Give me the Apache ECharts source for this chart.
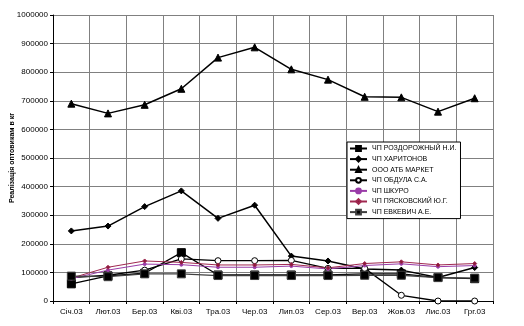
<!DOCTYPE html>
<html>
<head>
<meta charset="utf-8">
<script src="https://cdn.jsdelivr.net/npm/echarts@6/dist/echarts.min.js"></script>
<style>
  html, body { margin: 0; padding: 0; background: #fff; }
  #chart { width: 524px; height: 326px; }
</style>
</head>
<body>
<div id="chart"></div>
<script>
// Months of 2003
const months = ['Січ.03', 'Лют.03', 'Бер.03', 'Кві.03', 'Тра.03', 'Чер.03',
                'Лип.03', 'Сер.03', 'Вер.03', 'Жов.03', 'Лис.03', 'Грг.03'];

// Wholesale sales per customer, kg
const rozdorozhny = [60000, 88000, 97000, 169000, 91000, 91000, 91000, 91000, 95000, 95000, 82000, 78000];
const kharytonov  = [245000, 262000, 330000, 385000, 289000, 335000, 157000, 140000, 112000, 108000, 82000, 117000];
const atbMarket   = [690000, 656000, 686000, 742000, 851000, 887000, 810000, 774000, 714000, 712000, 662000, 709000];
const obdula      = [82000, 90000, 108000, 147000, 141000, 141000, 142000, 114000, 114000, 20000, 0, 0];
const shkuro      = [78000, 108000, 129000, 127000, 118000, 118000, 122000, 112000, 124000, 130000, 120000, 124000];
const pyaskovsky  = [80000, 118000, 140000, 135000, 126000, 126000, 128000, 116000, 131000, 137000, 126000, 131000];
const evkevych    = [87000, 85000, 95000, 95000, 89000, 89000, 89000, 89000, 90000, 90000, 82000, 80000];

const seriesNames = ['ЧП РОЗДОРОЖНЫЙ Н.И.', 'ЧП ХАРИТОНОВ', 'ООО АТБ МАРКЕТ', 'ЧП ОБДУЛА С.А.',
                     'ЧП ШКУРО', 'ЧП ПЯСКОВСКИЙ Ю.Г.', 'ЧП ЕВКЕВИЧ А.Е.'];
const yTicks = { min: 0, max: 1000000, step: 100000 };

const font = 'Liberation Sans, Arial, sans-serif';

function lineSeries(name, data, color, symbol, size, width, symbolColor) {
  return {
    name: name,
    type: 'line',
    data: data,
    symbol: symbol,
    symbolSize: size,
    showSymbol: true,
    lineStyle: { color: color, width: width },
    itemStyle: { color: symbolColor || color, borderColor: color, borderWidth: 1 },
    emphasis: { disabled: true },
    animation: false
  };
}

const chart = echarts.init(document.getElementById('chart'), null, { renderer: 'canvas' });
chart.setOption({
  backgroundColor: '#ffffff',
  textStyle: { fontFamily: font },
  grid: { left: 53, right: 31, top: 15, bottom: 25, containLabel: false, outerBoundsMode: 'none' },
  legend: {
    orient: 'vertical',
    left: 347,
    top: 142,
    itemWidth: 17,
    itemHeight: 6,
    itemGap: 3.6,
    padding: [3, 4, 3, 2],
    backgroundColor: '#ffffff',
    borderColor: '#000000',
    borderWidth: 1,
    borderRadius: 0,
    textStyle: { fontSize: 7, color: '#000', fontFamily: font },
    data: seriesNames
  },
  xAxis: {
    type: 'category',
    data: months,
    boundaryGap: true,
    axisLine: { lineStyle: { color: '#000', width: 1 } },
    axisTick: { show: true, length: 3, lineStyle: { color: '#000' } },
    axisLabel: { fontSize: 8, color: '#000', margin: 7, fontFamily: font },
    splitLine: { show: true, lineStyle: { color: '#808080', width: 1 } }
  },
  yAxis: {
    type: 'value',
    min: yTicks.min,
    max: yTicks.max,
    interval: yTicks.step,
    name: 'Реалізація оптовикам в кг',
    nameLocation: 'middle',
    nameGap: 37,
    nameMoveOverlap: false,
    nameTextStyle: { fontSize: 7, fontWeight: 'bold', color: '#000', fontFamily: font },
    axisLine: { show: true, lineStyle: { color: '#000', width: 1 } },
    axisTick: { show: true, length: 3, lineStyle: { color: '#000' } },
    axisLabel: { fontSize: 8, color: '#000', margin: 5, fontFamily: font,
                 formatter: v => String(v) },
    splitLine: { show: true, lineStyle: { color: '#808080', width: 1 } }
  },
  series: [
    lineSeries(seriesNames[0], rozdorozhny, '#000000', 'rect', 8, 1.3),
    lineSeries(seriesNames[1], kharytonov, '#000000', 'diamond', 6, 1.5),
    lineSeries(seriesNames[2], atbMarket, '#000000', 'triangle', 7, 1.5),
    lineSeries(seriesNames[3], obdula, '#000000', 'circle', 6, 1.3, '#ffffff'),
    lineSeries(seriesNames[4], shkuro, '#9a3ca8', 'circle', 3, 1, '#9a3ca8'),
    lineSeries(seriesNames[5], pyaskovsky, '#a02850', 'diamond', 4, 1, '#8b1a3a'),
    lineSeries(seriesNames[6], evkevych, '#404040', 'rect', 8, 1.3, '#000000')
  ]
});
</script>
</body>
</html>
